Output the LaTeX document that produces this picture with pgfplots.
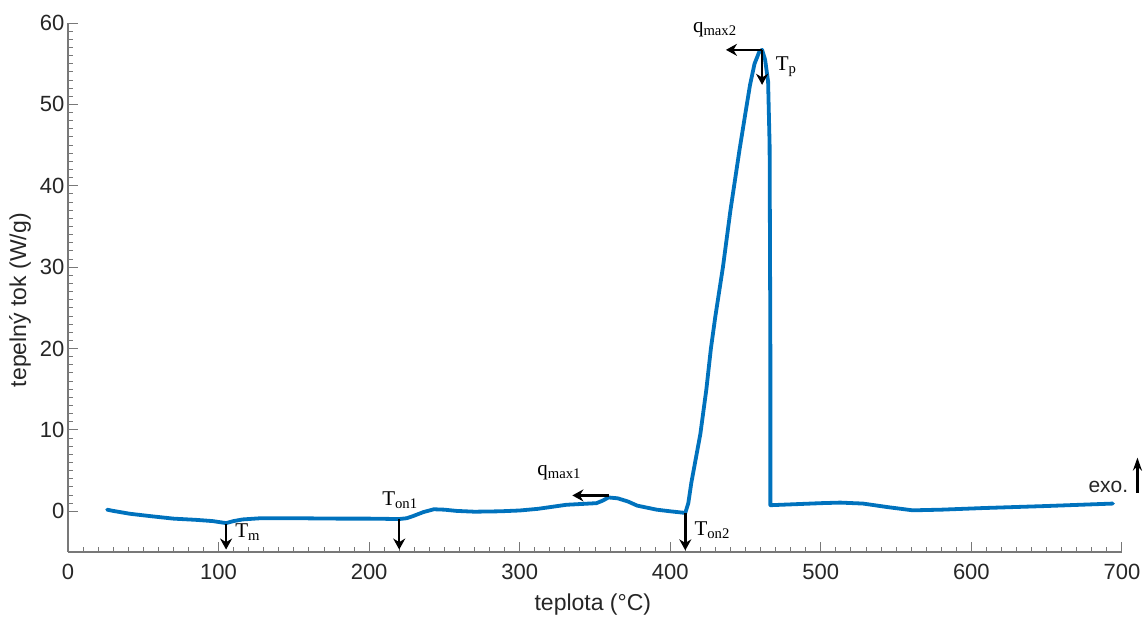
\documentclass[border=0pt]{standalone}
\usepackage{fontspec}
\setmainfont{Liberation Sans}
\newfontfamily\tnr{Liberation Serif}
\usepackage{pgfplots}
\pgfplotsset{compat=1.18}
\usetikzlibrary{arrows.meta}
\definecolor{mblue}{RGB}{0,114,189}
\definecolor{axgray}{RGB}{120,120,120}
\definecolor{txtgray}{RGB}{38,38,38}
\pgfplotstableread{
x y
26 0.2
30 0.05
41 -0.3
55 -0.6
70 -0.9
85 -1.05
96 -1.2
105 -1.45
110 -1.2
116 -1.0
128 -0.85
150 -0.85
180 -0.9
200 -0.9
220 -0.95
225 -0.85
229 -0.6
236 -0.1
243 0.25
250 0.2
258 0.05
270 -0.05
287 0.0
300 0.1
312 0.3
331 0.8
351 1.0
355 1.3
359 1.7
365 1.6
372 1.2
378 0.7
391 0.2
400 0.0
410 -0.2
412 1.0
414 3.5
417 6.5
420 9.5
424 15
427 20
430 24
435 30
440 37
446 44.4
450 49
453 52.4
456 55
459 56.4
461 56.7
463 55.5
465 52.8
466 45
466.5 20
466.5 0.75
480 0.85
500 1.0
513 1.07
528 0.95
545 0.5
561 0.12
580 0.2
608 0.4
650 0.65
694 0.95
}\dscdata
\begin{document}
\begin{tikzpicture}[x=1pt,y=1pt]
\useasboundingbox (0,0) rectangle (1145,617);
\begin{axis}[
  at={(68pt,65pt)}, anchor=south west,
  scale only axis, width=1054pt, height=529pt,
  xmin=0, xmax=700, ymin=-5, ymax=60,
  axis x line=bottom, axis y line=left,
  axis line style={-, axgray, line width=1.1pt},
  xtick={0,100,...,700}, ytick={0,10,...,60},
  minor x tick num=9, minor y tick num=9,
  tick align=inside,
  major tick length=10pt, minor tick length=5pt,
  every tick/.style={axgray, line width=0.9pt},
  ticklabel style={font=\fontsize{22}{26}\selectfont, text=txtgray},
  /pgf/number format/assume math mode=true,
  xticklabel style={yshift=-9pt},
  xlabel={teplota (°C)},
  ylabel={tepelný tok (W/g)},
  label style={font=\fontsize{23}{27}\selectfont, text=txtgray},
  xlabel style={at={(axis description cs:0.498,0)}, anchor=center, yshift=-53pt},
  ylabel style={at={(axis description cs:-0.0455,0.476)}, anchor=center},
  clip=false,
]
\addplot[mblue, line width=3.8pt, line join=round, line cap=round] table[x=x,y=y] {\dscdata};

\tikzset{ann/.style={-{Stealth[length=11pt,width=12pt]}, line width=2.5pt, black},
  lab/.style={anchor=west, inner sep=0, font=\tnr\fontsize{21}{25}\selectfont}}
\draw[ann] (axis cs:105,-1.5) -- (axis cs:105,-4.7);
\node[lab] at (axis cs:111,-2.6) {T\textsubscript{m}};
\draw[ann] (axis cs:220,-1.0) -- (axis cs:220,-4.7);
\node[lab] at (axis cs:208.6,1.35) {T\textsubscript{on1}};
\draw[ann] (axis cs:359,1.95) -- (axis cs:335,1.95);
\node[lab] at (axis cs:311.6,4.7) {q\textsubscript{max1}};
\draw[ann] (axis cs:410,-0.2) -- (axis cs:410,-4.8);
\node[lab] at (axis cs:416,-2.3) {T\textsubscript{on2}};
\draw[ann] (axis cs:461,56.7) -- (axis cs:437,56.7);
\node[lab] at (axis cs:415,59.2) {q\textsubscript{max2}};
\draw[ann] (axis cs:461,56.7) -- (axis cs:461,52.4);
\node[lab] at (axis cs:470,54.6) {T\textsubscript{p}};
\node[anchor=east, inner sep=0, font=\fontsize{21}{25}\selectfont, text=txtgray] at (axis cs:704.3,3.0) {exo.};
\draw[-{Stealth[length=13pt,width=9pt]}, line width=2.5pt, black] (axis cs:710.3,2.3) -- (axis cs:710.3,6.6);
\end{axis}
\end{tikzpicture}
\end{document}
